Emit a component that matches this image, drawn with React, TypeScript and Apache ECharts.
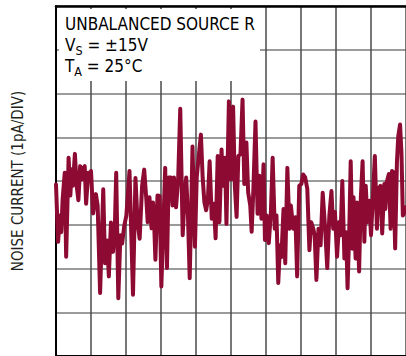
import React, { useEffect, useRef } from "react";
import * as echarts from "echarts";

// Noise trace: [time (divisions), current (divisions, 1pA/DIV)]
const noiseTrace: [number, number][] = [
  [0.0, 3.92], [0.06, 2.61], [0.11, 3.21], [0.15, 2.83], [0.19, 3.59], [0.25, 4.19], [0.29, 2.27], [0.36, 4.53],
  [0.41, 3.67], [0.45, 4.27], [0.48, 3.89], [0.54, 4.62], [0.59, 3.89], [0.64, 3.56], [0.69, 4.34], [0.74, 4.04],
  [0.78, 4.3], [0.82, 4.34], [0.86, 3.48], [0.92, 4.19], [0.97, 4.04], [1.0, 4.23], [1.06, 3.26], [1.14, 3.7],
  [1.19, 3.44], [1.26, 1.44], [1.35, 3.81], [1.4, 2.12], [1.46, 2.64], [1.51, 1.82], [1.57, 3.05], [1.63, 2.38],
  [1.68, 2.91], [1.72, 4.19], [1.78, 1.32], [1.84, 2.76], [1.89, 2.57], [1.95, 2.98], [2.01, 3.21], [2.1, 4.23],
  [2.2, 1.4], [2.27, 4.07], [2.33, 3.06], [2.39, 2.68],
  [2.46, 3.89], [2.52, 4.26], [2.58, 3.59], [2.62, 3.06], [2.67, 3.63], [2.73, 2.92], [2.77, 3.51], [2.8, 3.14],
  [2.84, 2.2], [2.9, 3.67], [2.96, 3.66], [3.01, 1.59], [3.07, 3.06], [3.12, 4.3], [3.17, 2.01], [3.22, 4.08],
  [3.28, 4.08], [3.33, 3.44], [3.37, 4.08], [3.43, 3.4], [3.49, 4.04], [3.55, 5.65], [3.62, 2.76], [3.67, 3.59],
  [3.72, 4.08], [3.77, 3.21], [3.82, 1.78], [3.87, 3.59], [3.9, 4.79], [3.97, 2.5], [4.02, 4.08], [4.07, 4.5],
  [4.14, 5.06], [4.19, 4.08], [4.24, 3.51], [4.29, 3.33], [4.34, 3.59], [4.39, 4.45], [4.45, 3.14], [4.51, 3.48],
  [4.56, 2.69], [4.62, 4.57], [4.67, 3.06], [4.73, 4.72], [4.77, 3.89], [4.83, 4.53], [4.87, 3.02],
  [4.94, 5.82], [5.0, 4.04], [5.06, 5.7], [5.11, 3.89], [5.16, 3.18], [5.21, 4.57], [5.27, 4.61], [5.33, 5.86],
  [5.38, 3.93], [5.44, 4.88], [5.49, 3.74], [5.55, 3.44], [5.59, 2.84], [5.64, 3.82], [5.7, 5.36], [5.76, 3.25],
  [5.81, 4.12], [5.87, 3.14], [5.93, 4.38], [5.97, 2.65], [6.02, 3.21], [6.08, 2.58], [6.14, 3.29], [6.19, 4.53],
  [6.25, 2.91], [6.3, 3.21], [6.35, 1.67], [6.4, 2.53], [6.44, 2.26], [6.5, 3.36], [6.55, 2.12], [6.61, 4.3],
  [6.67, 2.91], [6.71, 3.44], [6.78, 2.91], [6.84, 3.17], [6.89, 1.82], [6.95, 3.89], [7.01, 3.93], [7.06, 4.15],
  [7.12, 4.08], [7.18, 3.82], [7.24, 2.42], [7.29, 3.06], [7.35, 2.91],
  [7.39, 2.76], [7.44, 1.74], [7.5, 2.91], [7.56, 2.53], [7.62, 3.73], [7.69, 2.91], [7.75, 2.01], [7.81, 3.21],
  [7.87, 3.77], [7.92, 2.91], [7.97, 3.29], [8.03, 2.27], [8.09, 3.06], [8.13, 2.76], [8.18, 4.0], [8.24, 2.23],
  [8.29, 2.83], [8.33, 1.55], [8.38, 2.91], [8.42, 4.45], [8.47, 2.45], [8.5, 3.63], [8.56, 2.23], [8.6, 3.51],
  [8.66, 1.93], [8.71, 3.63], [8.76, 4.45], [8.81, 2.61], [8.85, 3.89], [8.9, 3.06], [8.95, 3.55], [9.0, 2.76],
  [9.05, 3.55], [9.11, 4.57], [9.17, 2.91], [9.21, 3.82], [9.27, 3.89], [9.32, 2.8], [9.38, 3.93], [9.41, 3.36],
  [9.45, 3.97], [9.51, 4.16], [9.56, 2.91], [9.6, 4.23], [9.64, 4.2], [9.69, 2.46], [9.74, 4.42], [9.78, 5.03],
  [9.83, 5.29], [9.87, 4.65], [9.91, 3.21], [9.94, 3.25], [10.0, 3.4],
];

const xDivisions = 10;
const yDivisions = 8;
const yAxisTitle = "NOISE CURRENT (1pA/DIV)";
const noteLine1 = "UNBALANCED SOURCE R";
const noteLine2 = ["V", "S", " = ±15V"];
const noteLine3 = ["T", "A", " = 25°C"];

const FONT = "'Liberation Sans Narrow', 'DejaVu Sans Condensed', 'Arial Narrow', 'Liberation Sans', sans-serif";
const TEXT = "#231f20";

export default function App() {
  const ref = useRef<HTMLDivElement>(null);
  useEffect(() => {
    if (!ref.current) return;
    const chart = echarts.init(ref.current, null, { renderer: "svg" });
    const rich = {
      m: { fontSize: 17, fontFamily: FONT, color: TEXT, verticalAlign: "middle", lineHeight: 24 },
      s: { fontSize: 12.5, fontFamily: FONT, color: TEXT, verticalAlign: "bottom", lineHeight: 24 },
    };
    chart.setOption({
      animation: false,
      backgroundColor: "#ffffff",
      grid: { left: 56, top: 6, width: 352, height: 352, show: false },
      xAxis: [
        {
          type: "value",
          min: 0,
          max: xDivisions,
          interval: 1,
          axisLine: { show: true, lineStyle: { color: "#000", width: 2 } },
          axisTick: { show: false },
          axisLabel: { show: false },
          splitLine: { show: true, lineStyle: { color: "#4a4a4a", width: 1.5 } },
        },
        {
          type: "value",
          position: "top",
          min: 0,
          max: xDivisions,
          interval: 1,
          axisLine: { show: true, lineStyle: { color: "#000", width: 2.5 } },
          axisTick: { show: false },
          axisLabel: { show: false },
          splitLine: { show: false },
        },
      ],
      yAxis: {
        type: "value",
        min: 0,
        max: yDivisions,
        interval: 1,
        name: yAxisTitle,
        nameLocation: "middle",
        nameRotate: 90,
        nameGap: 31,
        nameTextStyle: { fontSize: 15, fontFamily: FONT, color: TEXT },
        axisLine: { show: true, lineStyle: { color: "#000", width: 2 } },
        axisTick: { show: false },
        axisLabel: { show: false },
        splitLine: { show: true, lineStyle: { color: "#7a7a7a", width: 1.5 } },
      },
      graphic: {
        elements: [
          {
            type: "rect",
            z: 100,
            shape: { x: 59, y: 9, width: 201, height: 72 },
            style: { fill: "#ffffff", stroke: "none" },
          },
          {
            type: "text",
            x: 65,
            y: 12,
            z: 101,
            style: { text: `{m|${noteLine1}}`, rich, verticalAlign: "top" },
          },
          {
            type: "text",
            x: 65,
            y: 33,
            z: 101,
            style: {
              text: `{m|${noteLine2[0]}}{s|${noteLine2[1]}}{m|${noteLine2[2]}}`,
              rich,
              verticalAlign: "top",
            },
          },
          {
            type: "text",
            x: 65,
            y: 54,
            z: 101,
            style: {
              text: `{m|${noteLine3[0]}}{s|${noteLine3[1]}}{m|${noteLine3[2]}}`,
              rich,
              verticalAlign: "top",
            },
          },
        ],
      },
      series: [
        {
          type: "line",
          data: noiseTrace,
          xAxisIndex: 0,
          showSymbol: false,
          symbol: "none",
          z: 3,
          lineStyle: { color: "#8d0b33", width: 4, cap: "round", join: "round" },
        },
      ],
    });
    return () => chart.dispose();
  }, []);
  return (
    <div
      ref={ref}
      style={{ position: "absolute", left: 0, top: 0, width: 406, height: 356, overflow: "hidden", background: "#fff" }}
    />
  );
}
